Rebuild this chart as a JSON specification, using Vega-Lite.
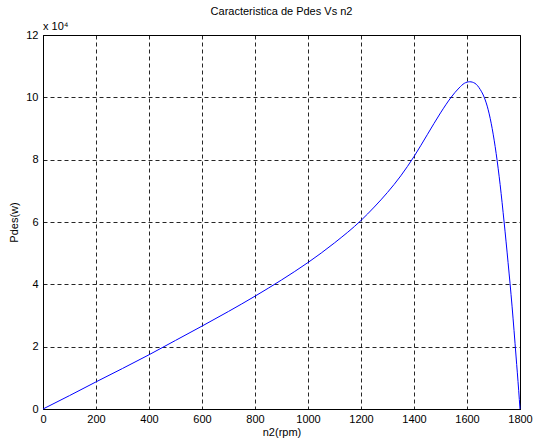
{
  "$schema": "https://vega.github.io/schema/vega-lite/v6.json",
  "width": 477,
  "height": 374,
  "autosize": {"type": "none"},
  "padding": {"left": 43, "top": 35, "right": 13, "bottom": 34},
  "background": "white",
  "title": {
    "text": "Caracteristica de Pdes Vs n2",
    "font": "Liberation Sans",
    "fontSize": 11,
    "fontWeight": "normal",
    "color": "#000000",
    "anchor": "middle",
    "frame": "group",
    "offset": 4
  },
  "config": {
    "view": {"stroke": "#000000", "strokeWidth": 1},
    "axis": {
      "labelFont": "Liberation Sans",
      "labelFontSize": 11,
      "labelColor": "#000000",
      "titleFont": "Liberation Sans",
      "titleFontSize": 11,
      "titleFontWeight": "normal",
      "titleColor": "#000000",
      "domainColor": "#000000",
      "tickColor": "#000000",
      "gridColor": "#000000",
      "gridDash": [4, 3],
      "gridOpacity": 0.85,
      "gridWidth": 1
    }
  },
  "layer": [
    {
      "data": {
        "values": [
          {"n2": 0, "pdes": 0},
          {"n2": 100, "pdes": 0.43},
          {"n2": 200, "pdes": 0.87},
          {"n2": 300, "pdes": 1.3},
          {"n2": 400, "pdes": 1.74},
          {"n2": 500, "pdes": 2.2},
          {"n2": 600, "pdes": 2.66},
          {"n2": 700, "pdes": 3.13},
          {"n2": 800, "pdes": 3.62},
          {"n2": 900, "pdes": 4.14},
          {"n2": 1000, "pdes": 4.7},
          {"n2": 1100, "pdes": 5.33},
          {"n2": 1200, "pdes": 6.05},
          {"n2": 1250, "pdes": 6.48},
          {"n2": 1300, "pdes": 6.95},
          {"n2": 1350, "pdes": 7.48},
          {"n2": 1400, "pdes": 8.1},
          {"n2": 1450, "pdes": 8.8},
          {"n2": 1500, "pdes": 9.5},
          {"n2": 1540, "pdes": 10.0},
          {"n2": 1570, "pdes": 10.3},
          {"n2": 1590, "pdes": 10.45},
          {"n2": 1610, "pdes": 10.5},
          {"n2": 1630, "pdes": 10.45},
          {"n2": 1650, "pdes": 10.25},
          {"n2": 1665, "pdes": 10.0},
          {"n2": 1680, "pdes": 9.6},
          {"n2": 1695, "pdes": 9.0},
          {"n2": 1710, "pdes": 8.2},
          {"n2": 1725, "pdes": 7.2},
          {"n2": 1740, "pdes": 6.0},
          {"n2": 1755, "pdes": 4.7},
          {"n2": 1770, "pdes": 3.3},
          {"n2": 1785, "pdes": 1.7},
          {"n2": 1795, "pdes": 0.6},
          {"n2": 1800, "pdes": 0}
        ]
      },
      "mark": {"type": "line", "color": "#0000ff", "strokeWidth": 1, "interpolate": "monotone"},
      "encoding": {
        "x": {
          "field": "n2",
          "type": "quantitative",
          "scale": {"domain": [0, 1800], "nice": false},
          "axis": {
            "title": "n2(rpm)",
            "format": "d",
            "values": [0, 200, 400, 600, 800, 1000, 1200, 1400, 1600, 1800],
            "labelPadding": 4,
            "tickSize": 0,
            "titlePadding": 2,
            "labelFlush": false
          }
        },
        "y": {
          "field": "pdes",
          "type": "quantitative",
          "scale": {"domain": [0, 12], "nice": false},
          "axis": {
            "title": "Pdes(w)",
            "format": "d",
            "values": [0, 2, 4, 6, 8, 10, 12],
            "labelPadding": 5,
            "tickSize": 0,
            "titlePadding": 6,
            "labelFlush": false
          }
        }
      }
    },
    {
      "data": {"values": [{"n2": 0, "pdes": 12, "label": "x 10⁴"}]},
      "mark": {
        "type": "text",
        "font": "Liberation Sans",
        "fontSize": 11,
        "color": "#000000",
        "align": "left",
        "baseline": "bottom",
        "dx": 0,
        "dy": -3
      },
      "encoding": {
        "x": {"field": "n2", "type": "quantitative"},
        "y": {"field": "pdes", "type": "quantitative"},
        "text": {"field": "label"}
      }
    }
  ]
}
